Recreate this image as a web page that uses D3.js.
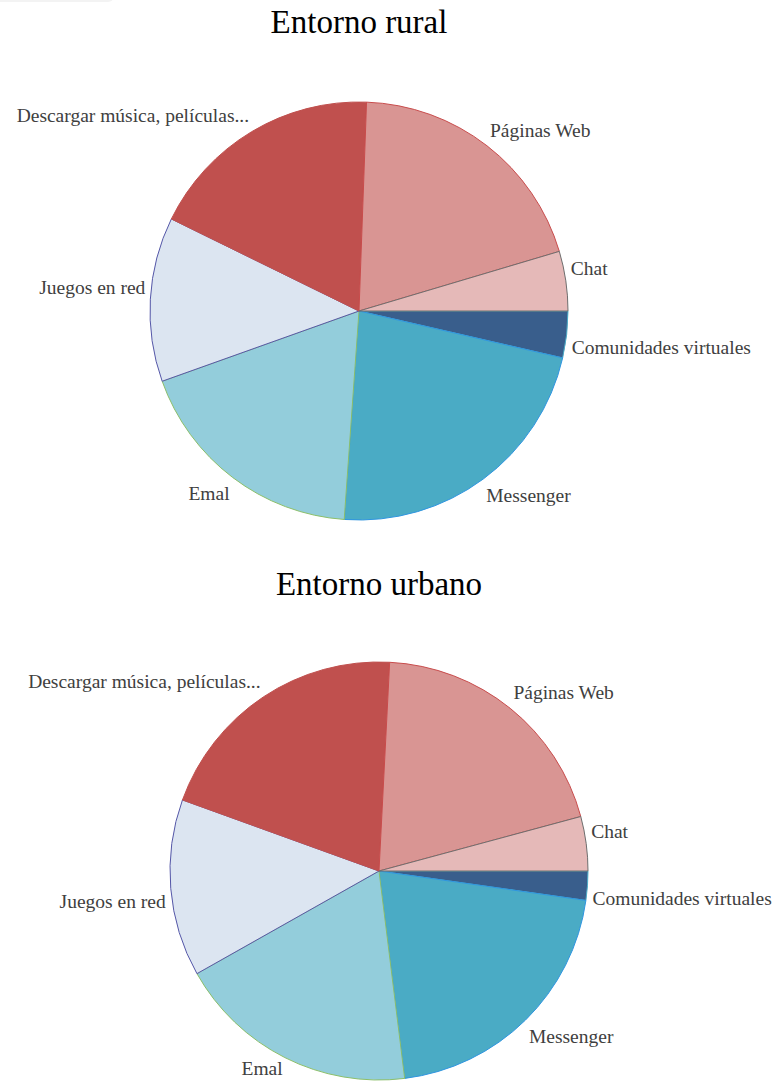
<!DOCTYPE html>
<html>
<head>
<meta charset="utf-8">
<script src="https://cdn.jsdelivr.net/npm/d3@7/dist/d3.min.js"></script>
<style>
	body { margin: 0; background: #fff; }
	.title { font-family: "Liberation Serif", "Times New Roman", serif; font-size: 33px; fill: #000; }
	.label { font-family: "Liberation Serif", "Times New Roman", serif; font-size: 19.5px; fill: #404040; }
</style>
</head>
<body>
<div id="chart"></div>
<script>
// categorias, en sentido horario desde las 3 en punto
var categorias= ["Comunidades virtuales","Messenger","Emal","Juegos en red","Descargar música, películas...","Páginas Web","Chat"];

var rural= [3.6, 22.5, 18.4, 12.7, 18.3, 19.8, 4.6];
var urbano= [2.25, 20.8, 18.8, 13.7, 20.3, 20.0, 4.2];

var titulos= ["Entorno rural","Entorno urbano"];

var relleno= ["#395e8c","#4aabc5","#93cddb","#dce5f1","#c0504e","#d99593","#e5b9b8"];
var borde= ["#4bacc6","#2f95e0","#8cbf6a","#5557a8","#c0504e","#c84c4c","#6e6e6e"];

var width= 774, height= 1081;
var radio= 209;

var svg= d3.select("#chart")
		.append("svg")
		.attr("width", width)
		.attr("height", height);

// franja gris tenue arriba a la izquierda
svg.append("rect")
	.attr("x", -10)
	.attr("y", -20)
	.attr("width", 124)
	.attr("height", 22)
	.attr("rx", 6)
	.attr("fill", "#f3f3f3");

var color= d3.scaleOrdinal().domain(categorias).range(relleno);
var color_borde= d3.scaleOrdinal().domain(categorias).range(borde);

var pie= d3.pie()
	.sort(null)
	.value(function(d) { return d.v; })
	.startAngle(Math.PI/ 2)
	.endAngle(Math.PI/ 2+ 2*Math.PI);

var arco= d3.arc().innerRadius(0).outerRadius(radio);

function dibujar_pastel(valores, titulo, cx, cy, ty) {
	var datos= categorias.map(function(c, i) { return {c: c, v: valores[i]}; });

	svg.append("text")
		.attr("class", "title")
		.attr("x", cx)
		.attr("y", ty)
		.attr("text-anchor", "middle")
		.text(titulo);

	var g= svg.append("g")
		.attr("transform", "translate(" + cx + "," + cy + ")");

	var trozos= pie(datos);

	g.selectAll("path")
		.data(trozos)
		.enter()
		.append("path")
			.attr("d", arco)
			.attr("fill", function(d) { return color(d.data.c); })
			.attr("stroke", function(d) { return color_borde(d.data.c); })
			.attr("stroke-width", 1);

	// etiquetas: la esquina de la caja toca el punto medio del arco
	var r_et= radio+ 5;
	g.selectAll("text")
		.data(trozos)
		.enter()
		.append("text")
			.attr("class", "label")
			.each(function(d) {
				var a= (d.startAngle+ d.endAngle)/ 2;
				var px= Math.sin(a)* r_et;
				var py= -Math.cos(a)* r_et;
				var y= py+ (py< 0 ? -12 : 12)+ 7;
				// que no se salga por abajo
				y= Math.min(y, height- cy- 6);
				d3.select(this)
					.attr("x", px)
					.attr("y", y)
					.attr("text-anchor", px< 0 ? "end" : "start");
			})
			.text(function(d) { return d.data.c; });
}

dibujar_pastel(rural, titulos[0], 359, 311, 33);
dibujar_pastel(urbano, titulos[1], 379, 871, 595);
</script>
</body>
</html>
